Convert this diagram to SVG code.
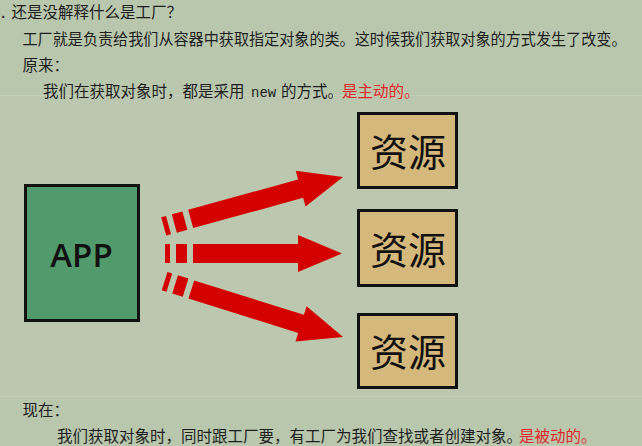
<svg xmlns="http://www.w3.org/2000/svg" width="642" height="446" viewBox="0 0 642 446">
<style>
.t{font-family:"Noto Sans CJK SC","Noto Sans",sans-serif;font-size:15.5px;fill:#1e1e1e}
.r{fill:#e0262a}
.m{font-family:"Liberation Mono",monospace;font-size:14px;fill:#1e1e1e}
.res{fill:#d5b87b;stroke:#111;stroke-width:3}
.rt{font-family:"Noto Sans CJK SC",serif;font-size:38px;fill:#111;text-anchor:middle}
.arr{fill:#d40000}
</style>
<rect width="642" height="446" fill="#b9c7ad"/>
<rect x="0" y="95" width="642" height="302" fill="#bbc8af"/>
<line x1="0" y1="95.5" x2="642" y2="95.5" stroke="#c3cfb8" stroke-width="1"/>
<line x1="0" y1="396.5" x2="642" y2="396.5" stroke="#c3cfb8" stroke-width="1"/>

<g id="text">
<text class="t" x="1" y="18">.</text>
<text class="t" x="11.5" y="18">还是没解释什么是工厂？</text>
<text class="t" x="22.5" y="44.5" textLength="604" lengthAdjust="spacingAndGlyphs">工厂就是负责给我们从容器中获取指定对象的类。这时候我们获取对象的方式发生了改变。</text>
<text class="t" x="22.5" y="70.5">原来：</text>
<text class="t" x="43" y="96.5">我们在获取对象时，都是采用</text>
<text class="m" x="251" y="96.5">new</text>
<text class="t" x="281" y="96.5">的方式。</text>
<text class="t r" x="342" y="96.5">是主动的。</text>
<text class="t" x="22.5" y="415.5">现在：</text>
<text class="t" x="57" y="441.5">我们获取对象时，同时跟工厂要，有工厂为我们查找或者创建对象。</text>
<text class="t r" x="519" y="441.5">是被动的。</text>
</g>

<g id="app">
<rect x="25.5" y="185.5" width="113" height="135" fill="#519a6b" stroke="#111" stroke-width="3"/>
<text x="81.5" y="267" font-family="'Open Sans','Liberation Sans',sans-serif" font-size="33" font-weight="600" fill="#111" text-anchor="middle">APP</text>
</g>

<g id="res1">
<rect class="res" x="358.5" y="113.5" width="98" height="74"/>
<text class="rt" x="408" y="166">资源</text>
</g>
<g id="res2">
<rect class="res" x="358.5" y="210.5" width="98" height="75"/>
<text class="rt" x="408" y="264">资源</text>
</g>
<g id="res3">
<rect class="res" x="358.5" y="314.5" width="98" height="73"/>
<text class="rt" x="408" y="366">资源</text>
</g>

<g id="connectors" class="arr">
<g transform="translate(163.7,226.4) rotate(-15.4)">
<path d="M0,-9.5h5v19h-5z M11,-9.5h11v19h-11z M28,-9.5H142V-18.5L186,0L142,18.5V9.5H28z"/>
</g>
<g transform="translate(165,253.5)">
<path d="M0,-9.5h5v19h-5z M11,-9.5h11v19h-11z M28,-9.5H133V-18.5L177,0L133,18.5V9.5H28z"/>
</g>
<g transform="translate(164.6,281.1) rotate(17.4)">
<path d="M0,-9.5h5v19h-5z M11,-9.5h11v19h-11z M28,-9.5H143V-18.5L187,0L143,18.5V9.5H28z"/>
</g>
</g>
</svg>
